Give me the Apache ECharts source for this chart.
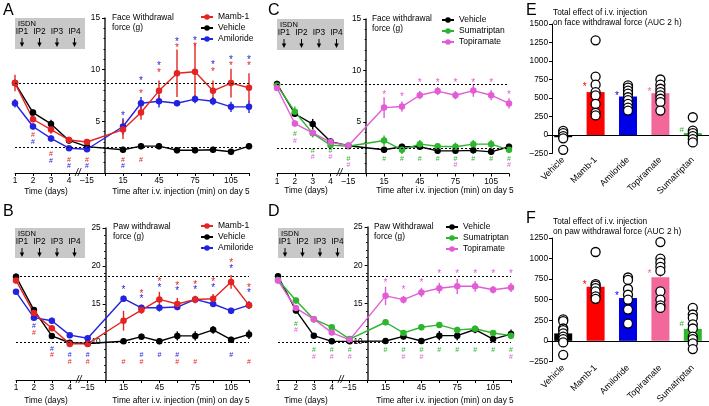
<!DOCTYPE html>
<html><head><meta charset="utf-8">
<script src="https://cdn.jsdelivr.net/npm/echarts@6/dist/echarts.min.js"></script>
<style>html,body{margin:0;padding:0;background:#fff}#c{width:709px;height:406px}</style>
</head><body><div id="c"></div><script>
// ---------- data ----------
const timeLabels = ['1','2','3','4','–15','15','30','45','60','75','90','105','120'];
const shownTicks = ['1','2','3','4','–15','15','45','75','105'];

// Panel A: face withdrawal force (g)
const aMamb = [8.7,5.2,4.2,3.2,3.0,4.2,5.85,7.95,9.65,9.8,7.95,8.7,8.25];
const aMambErr = [0.8,0.3,0.4,0.3,0.3,0.9,0.7,1.0,2.3,2.7,1.0,1.4,1.4];
const aVeh = [8.7,5.85,4.75,3.15,2.55,2.25,2.6,2.6,2.2,2.2,2.25,2.05,2.6];
const aVehErr = [0.3,0.3,0.4,0.3,0.2,0.3,0.3,0.3,0.3,0.3,0.3,0.3,0.3];
const aAmil = [6.75,4.5,3.35,2.4,2.3,4.5,6.75,6.95,6.75,7.15,6.95,6.4,6.4];
const aAmilErr = [0.4,0.3,0.3,0.2,0.2,0.8,0.6,0.6,0.3,0.4,0.4,0.5,0.6];
const aRefLines = [8.7, 2.5];
const aRedStar = [[6,7.9],[7,9.9],[8,12.4],[9,12.5],[10,10.0],[11,10.6],[12,10.6]];
const aBlueStar = [[5,5.8],[6,9.2],[7,10.6],[8,12.9],[9,13.0],[10,10.7],[11,11.2],[12,11.2]];
const aRedHash = [[1,3.7],[2,1.8],[3,1.3],[4,1.3],[5,1.3],[6,1.3]];
const aBlueHash = [[1,3.0],[2,1.2],[3,0.7],[4,0.7],[5,0.7]];

// Panel B: paw withdrawal force (g)
const bMamb = [18.1,13.8,11.8,9.75,9.75,12.8,14.2,15.6,15.0,15.6,15.7,17.9,14.85];
const bMambErr = [0.4,0.3,0.3,0.3,0.3,1.3,0.5,1.0,0.8,0.5,0.6,0.9,0.5];
const bVeh = [18.6,14.2,10.8,9.9,9.8,10.1,10.7,10.1,10.8,10.8,11.6,10.3,11.0];
const bVehErr = [0.4,0.4,0.3,0.3,0.3,0.3,0.4,0.4,0.6,0.6,0.5,0.4,0.6];
const bAmil = [16.6,13.2,12.8,10.9,10.5,15.7,14.5,14.5,14.6,15.6,15.0,14.1,14.85];
const bAmilErr = [0.3,0.4,0.4,0.3,0.3,0.4,0.4,0.5,0.4,0.3,0.4,0.4,0.5];
const bRefLines = [18.6, 10.0];
const bRedStar = [[6,16.7],[7,18.2],[8,17.7],[9,17.9],[10,18.2],[11,20.7],[12,17.5]];
const bBlueStar = [[5,17.2],[6,16.0],[7,17.5],[8,17.1],[9,17.2],[10,17.5],[11,20.0],[12,16.8]];
const bRedHash = [[1,11.2],[2,8.3],[3,7.35],[4,7.35],[5,7.35],[6,7.35],[8,7.35],[9,7.35],[12,7.35]];
const bBlueHash = [[1,12.1],[2,9.1],[3,8.3],[4,8.3],[6,8.3],[7,8.3],[8,8.3],[11,8.3]];

// Panel C: face withdrawal force (g)
const cVeh = [8.7,5.8,4.8,3.1,2.7,2.3,2.6,2.6,2.2,2.2,2.25,2.1,2.6];
const cVehErr = [0.3,0.3,0.5,0.3,0.2,0.3,0.3,0.3,0.3,0.3,0.3,0.3,0.3];
const cSuma = [8.55,6.0,3.9,2.75,2.65,3.2,2.3,2.85,2.65,2.6,2.85,2.85,2.3];
const cSumaErr = [0.3,0.5,0.4,0.3,0.2,0.5,0.4,0.4,0.3,0.4,0.4,0.4,0.3];
const cTopi = [8.3,4.85,3.95,3.05,2.7,6.4,6.5,7.6,8.0,7.6,8.05,7.6,6.8];
const cTopiErr = [0.3,0.3,0.3,0.3,0.2,1.0,0.5,0.4,0.4,0.4,0.6,0.5,0.5];
const cRefLines = [8.7, 2.5];
const cPinkStar = [[5,7.9],[6,7.7],[7,9.1],[8,9.1],[9,9.1],[10,9.1],[11,9.1],[12,7.9]];
const cGreenHash = [[1,3.8],[2,2.2],[3,2.2],[4,1.45],[5,1.45],[6,1.45],[7,1.45],[8,1.45],[9,1.45],[10,1.45],[11,1.45],[12,1.45]];
const cPinkHash = [[1,3.15],[2,1.55],[3,1.55],[4,0.8],[9,0.8],[12,0.8]];

// Panel D: paw withdrawal force (g)
const dVeh = [18.55,14.1,10.8,10.05,10.05,10.1,10.7,10.1,10.8,10.8,11.6,10.35,11.0];
const dVehErr = [0.4,0.4,0.3,0.2,0.2,0.3,0.4,0.4,0.6,0.6,0.5,0.4,0.6];
const dSuma = [18.1,15.4,12.95,11.9,10.35,12.55,11.15,11.9,12.2,11.55,11.7,11.15,10.8];
const dSumaErr = [0.5,0.4,0.4,0.3,0.3,0.4,0.4,0.4,0.4,0.4,0.4,0.4,0.4];
const dTopi = [18.0,14.4,12.95,11.2,10.25,16.0,15.5,16.45,17.0,17.25,17.25,16.8,17.1];
const dTopiErr = [0.4,0.4,0.4,0.3,0.3,1.2,0.5,0.6,0.7,1.0,0.7,0.5,0.6];
const dRefLines = [18.6, 10.0];
const dPinkStar = [[5,18.0],[6,17.1],[7,18.0],[8,19.2],[9,19.2],[10,19.2],[11,19.2],[12,19.2]];
const dGreenHash = [[1,12.35],[2,8.85],[3,8.85],[4,8.85],[5,8.85],[6,8.85],[7,8.85],[8,8.85],[9,8.85],[10,8.85],[11,8.85],[12,8.85]];
const dPinkHash = [[1,11.5],[2,7.95],[3,7.95],[4,7.95],[6,7.95],[7,7.95],[12,7.95]];

// Panels E/F: AUC 2 h
const barCats = ['Vehicle','Mamb-1','Amiloride','Topiramate','Sumatriptan'];
const eMeans = [-30, 580, 520, 565, 25];
const eErr = [20, 100, 35, 45, 45];
const eDots = [[55,25,-15,-45,-200],[1280,790,680,580,535,420,300,265],[670,640,600,560,510,470,420,370,330],[750,680,625,580,535,490,445,330],[240,60,25,-15,-55,-100]];
const eSig = [[1,690,'*'],[2,558,'*'],[3,612,'*'],[4,75,'#']];
const fMeans = [90, 656, 520, 773, 145];
const fErr = [40, 70, 70, 80, 50];
const fDots = [[260,240,150,130,90,50,20,-20,-170],[1080,690,670,640,600,540,510],[770,740,630,560,500,380,210],[1200,1000,950,900,850,600,500,430,400],[400,320,280,200,150,50,20,-30,-100]];
const fSig = [[1,715,'*'],[2,578,'*'],[3,840,'*'],[4,207,'#']];

// ---------- styles ----------
const FONT = 'Arial, "Liberation Sans", sans-serif';
const RED='#e52421', BLUE='#2222e0', BLACK='#000000', GREEN='#2db52d', PINK='#e25dd5';
const barColors = ['#000000','#ff0000','#0000e6','#f2689b','#2db52d'];

function xp(i){ return i < 5 ? i - 5 : i - 4; }
function xLabel(v){
  const r = Math.round(v); if (r === 0) return '';
  const t = timeLabels[r < 0 ? r + 5 : r + 4];
  return shownTicks.includes(t) ? t : '';
}

const chart = echarts.init(document.getElementById('c'));
const grids = [
  {left:15, top:18, width:234, height:155},
  {left:16, top:228, width:233, height:152},
  {left:277, top:19, width:232, height:154.5},
  {left:278, top:227, width:233, height:153},
  {left:547, top:24, width:162, height:129.5},
  {left:547, top:238, width:162, height:128}
];
const yRanges = [[0,15],[5,25],[0,15],[5,25]];
const xAxes = [], yAxes = [], series = [];

for (let g = 0; g < 4; g++) {
  xAxes.push({gridIndex:g, type:'value', min:-5, max:8, interval:1,
    axisLine:{onZero:false, lineStyle:{color:'#000', width:1}},
    axisTick:{length:3, lineStyle:{color:'#000'}},
    axisLabel:{formatter:xLabel, fontSize:8.3, fontFamily:FONT, color:'#000', margin:4},
    splitLine:{show:false}});
  // the y axis stands at x = 0 (between the day-course and the post-injection course)
  yAxes.push({gridIndex:g, type:'value', min:yRanges[g][0], max:yRanges[g][1], interval:5,
    offset: -grids[g].width * 5 / 13,
    axisLine:{show:true, onZero:false, lineStyle:{color:'#222', width:1.5}},
    axisTick:{show:true, length:3, lineStyle:{color:'#000'}},
    minorTick:{show:true, splitNumber:5, length:1.5, lineStyle:{color:'#000'}},
    axisLabel:{showMinLabel:false, fontSize:8.3, fontFamily:FONT, color:'#000', margin:5},
    splitLine:{show:false}});
}

function errRender(color){
  return function(params, api){
    const x = api.value(0), y = api.value(1), e = api.value(2);
    const p1 = api.coord([x, y - e]), p2 = api.coord([x, y + e]);
    return {type:'line', shape:{x1:p1[0], y1:p1[1], x2:p2[0], y2:p2[1]}, style:{stroke:color, lineWidth:1.4}};
  };
}
function addLineSet(g, name, vals, errs, color){
  series.push({type:'custom', name:'err'+g+name, xAxisIndex:g, yAxisIndex:g, silent:true, z:2,
    renderItem:errRender(color), data:vals.map((v,i)=>[xp(i), v, errs[i]])});
  series.push({type:'line', name:name, xAxisIndex:g, yAxisIndex:g, z:3,
    data:vals.map((v,i)=>[xp(i), v]), symbol:'circle', symbolSize:6.5,
    lineStyle:{color:color, width:1.4}, itemStyle:{color:color}});
}
function addMarks(g, pts, sym, color){
  series.push({type:'custom', name:'sig'+g+sym+color, xAxisIndex:g, yAxisIndex:g, silent:true, z:4,
    data:pts.map(p => [xp(p[0]), p[1]]),
    renderItem:function(params, api){
      const c = api.coord([api.value(0), api.value(1)]);
      const star = sym === '*';
      return {type:'text', x:c[0], y:c[1] + (star ? 3 : 0),
        style:{text:sym, fill:color, fontSize: star ? 10 : 7, fontFamily:FONT, align:'center', verticalAlign:'middle'}};
    }});
}
function addRef(g, vals){
  series.push({type:'line', name:'ref'+g, xAxisIndex:g, yAxisIndex:g, data:[], silent:true,
    markLine:{silent:true, symbol:'none', label:{show:false},
      lineStyle:{color:'#000', type:[2,2], width:1}, data:vals.map(v=>({yAxis:v}))}});
}

// A
addRef(0, aRefLines);
addLineSet(0, 'Vehicle', aVeh, aVehErr, BLACK);
addLineSet(0, 'Amiloride', aAmil, aAmilErr, BLUE);
addLineSet(0, 'Mamb-1', aMamb, aMambErr, RED);
addMarks(0, aRedStar, '*', RED); addMarks(0, aBlueStar, '*', BLUE);
addMarks(0, aRedHash, '#', RED); addMarks(0, aBlueHash, '#', BLUE);
// B
addRef(1, bRefLines);
addLineSet(1, 'Vehicle', bVeh, bVehErr, BLACK);
addLineSet(1, 'Amiloride', bAmil, bAmilErr, BLUE);
addLineSet(1, 'Mamb-1', bMamb, bMambErr, RED);
addMarks(1, bRedStar, '*', RED); addMarks(1, bBlueStar, '*', BLUE);
addMarks(1, bRedHash, '#', RED); addMarks(1, bBlueHash, '#', BLUE);
// C
addRef(2, cRefLines);
addLineSet(2, 'Vehicle', cVeh, cVehErr, BLACK);
addLineSet(2, 'Sumatriptan', cSuma, cSumaErr, GREEN);
addLineSet(2, 'Topiramate', cTopi, cTopiErr, PINK);
addMarks(2, cPinkStar, '*', PINK);
addMarks(2, cGreenHash, '#', GREEN); addMarks(2, cPinkHash, '#', PINK);
// D
addRef(3, dRefLines);
addLineSet(3, 'Vehicle', dVeh, dVehErr, BLACK);
addLineSet(3, 'Sumatriptan', dSuma, dSumaErr, GREEN);
addLineSet(3, 'Topiramate', dTopi, dTopiErr, PINK);
addMarks(3, dPinkStar, '*', PINK);
addMarks(3, dGreenHash, '#', GREEN); addMarks(3, dPinkHash, '#', PINK);

// E, F bar panels
function addBarPanel(g, means, errs, dots, sig, ymin, ymax){
  xAxes.push({gridIndex:g, type:'category', data:barCats, position:'bottom',
    axisLine:{show:false, onZero:false}, axisTick:{show:false},
    axisLabel:{rotate:45, fontSize:9, fontFamily:FONT, color:'#000', margin:5, interval:0}});
  yAxes.push({gridIndex:g, type:'value', min:ymin, max:ymax, interval:250, offset:-5,
    axisLine:{show:true, onZero:false, lineStyle:{color:'#000', width:1}},
    axisTick:{show:true, length:3, lineStyle:{color:'#000'}},
    axisLabel:{fontSize:8.3, fontFamily:FONT, color:'#000', margin:4,
      formatter:v => v < 0 ? '–' + Math.abs(v) : String(v)},
    splitLine:{show:false}});
  series.push({type:'bar', name:'bar'+g, xAxisIndex:g, yAxisIndex:g, data:means, barWidth:18, z:2,
    itemStyle:{color:p => barColors[p.dataIndex]},
    markLine:{silent:true, symbol:'none', label:{show:false},
      lineStyle:{color:'#000', type:'solid', width:1}, data:[{yAxis:0}]}});
  series.push({type:'custom', name:'barerr'+g, xAxisIndex:g, yAxisIndex:g, silent:true, z:3,
    data:means.map((m,i)=>[i, m, errs[i]]),
    renderItem:function(params, api){
      const i = api.value(0), m = api.value(1), e = api.value(2);
      const top = api.coord([i, m + (m >= 0 ? e : -e)]), base = api.coord([i, m]);
      const col = barColors[params.dataIndex];
      return {type:'group', children:[
        {type:'line', shape:{x1:base[0], y1:base[1], x2:top[0], y2:top[1]}, style:{stroke:col, lineWidth:1.3}},
        {type:'line', shape:{x1:top[0]-4, y1:top[1], x2:top[0]+4, y2:top[1]}, style:{stroke:col, lineWidth:1.3}}]};
    }});
  const pts = [];
  dots.forEach((arr,i) => arr.forEach(v => pts.push([i, v])));
  series.push({type:'scatter', name:'dots'+g, xAxisIndex:g, yAxisIndex:g, z:5, data:pts,
    symbol:'circle', symbolSize:9, itemStyle:{color:'#fff', borderColor:'#000', borderWidth:1.3, opacity:1}});
  series.push({type:'custom', name:'barsig'+g, xAxisIndex:g, yAxisIndex:g, silent:true, z:6,
    data:sig.map(s => [s[0], s[1]]),
    renderItem:function(params, api){
      const c = api.coord([api.value(0), api.value(1)]);
      const s = sig[params.dataIndex][2];
      return {type:'text', x:c[0] - 11, y:c[1] + (s === '*' ? 3 : 0),
        style:{text:s, fill:barColors[sig[params.dataIndex][0]], fontSize: s === '*' ? 10 : 8,
          fontFamily:FONT, align:'center', verticalAlign:'middle'}};
    }});
}
addBarPanel(4, eMeans, eErr, eDots, eSig, -250, 1500);
addBarPanel(5, fMeans, fErr, fDots, fSig, -250, 1250);

const legendBase = {orient:'vertical', itemWidth:12, itemHeight:7, itemGap:1, padding:0, selectedMode:false,
  textStyle:{fontSize:8.5, fontFamily:FONT, color:'#000', lineHeight:10}};
const legends = [
  Object.assign({}, legendBase, {data:['Mamb-1','Vehicle','Amiloride'], left:200, top:12}),
  Object.assign({}, legendBase, {data:['Mamb-1','Vehicle','Amiloride'], left:200, top:221}),
  Object.assign({}, legendBase, {data:['Vehicle','Sumatriptan','Topiramate'], left:441, top:15}),
  Object.assign({}, legendBase, {data:['Vehicle','Sumatriptan','Topiramate'], left:445, top:222})
];

function txt(x, y, text, size, align, extra){
  return {type:'text', x:x, y:y, silent:true,
    style:Object.assign({text:text, fontSize:size, fontFamily:FONT, fill:'#000', align:align||'left', verticalAlign:'middle'}, extra||{})};
}
function isdnBox(x, y, w, h){
  const ch = [{type:'rect', shape:{x:0, y:0, width:w, height:h}, style:{fill:'#c8c8c8'}},
    {type:'text', x:3, y:6, style:{text:'ISDN', fontSize:7.5, fontFamily:FONT, fill:'#000', verticalAlign:'middle'}}];
  [7, 24.5, 42, 59.5].forEach((px, k) => {
    ch.push({type:'text', x:px, y:14, style:{text:'IP' + (k+1), fontSize:8.3, fontFamily:FONT, fill:'#000', align:'center', verticalAlign:'middle'}});
    ch.push({type:'line', shape:{x1:px, y1:20, x2:px, y2:26}, style:{stroke:'#000', lineWidth:1}});
    ch.push({type:'polygon', shape:{points:[[px-2.2,24.5],[px+2.2,24.5],[px,29]]}, style:{fill:'#000'}});
  });
  return {type:'group', x:x, y:y, silent:true, children:ch};
}

const graphics = [
  txt(3, 11, 'A', 16), txt(3, 212, 'B', 16), txt(268, 11, 'C', 16), txt(268, 212, 'D', 16),
  txt(526, 11, 'E', 16), txt(526, 219, 'F', 16),
  isdnBox(15, 18, 70, 31), isdnBox(15, 228, 70, 30), isdnBox(277, 19, 67, 31), isdnBox(278, 228, 66, 30),
  txt(112, 23, 'Face Withdrawal\nforce (g)', 8.3, 'left', {lineHeight:10}),
  txt(113, 232, 'Paw withdrawal\nforce (g)', 8.3, 'left', {lineHeight:10}),
  txt(372, 24, 'Face withdrawal\nforce (g)', 8.3, 'left', {lineHeight:10}),
  txt(374, 232, 'Paw Withdrawal\nforce (g)', 8.3, 'left', {lineHeight:10}),
  txt(46, 192, 'Time (days)', 8.3, 'center'), txt(181, 192, 'Time after i.v. injection (min) on day 5', 8.3, 'center'),
  txt(46, 401, 'Time (days)', 8.3, 'center'), txt(181, 401, 'Time after i.v. injection (min) on day 5', 8.3, 'center'),
  txt(306, 191, 'Time (days)', 8.3, 'center'), txt(445, 191, 'Time after i.v. injection (min) on day 5', 8.3, 'center'),
  txt(306, 401, 'Time (days)', 8.3, 'center'), txt(445, 401, 'Time after i.v. injection (min) on day 5', 8.3, 'center'),
  txt(553, 18, 'Total effect of i.v. injection\non face withdrawal force (AUC 2 h)', 8.3, 'left', {lineHeight:10}),
  txt(553, 227, 'Total effect of i.v. injection\non paw withdrawal force (AUC 2 h)', 8.3, 'left', {lineHeight:10})
];

chart.setOption({
  animation:false,
  grid:grids, xAxis:xAxes, yAxis:yAxes, series:series, legend:legends, graphic:graphics
});

// axis-break marks between day 4 and the pre-injection point
for (let g = 0; g < 4; g++) {
  const p = chart.convertToPixel({gridIndex:g}, [-1.5, yRanges[g][0]]);
  graphics.push({type:'text', x:p[0], y:p[1], silent:true,
    style:{text:'//', fontSize:10, fontFamily:FONT, fill:'#000', align:'center', verticalAlign:'middle', fontStyle:'italic'}});
}
chart.setOption({graphic:graphics});
</script></body></html>
